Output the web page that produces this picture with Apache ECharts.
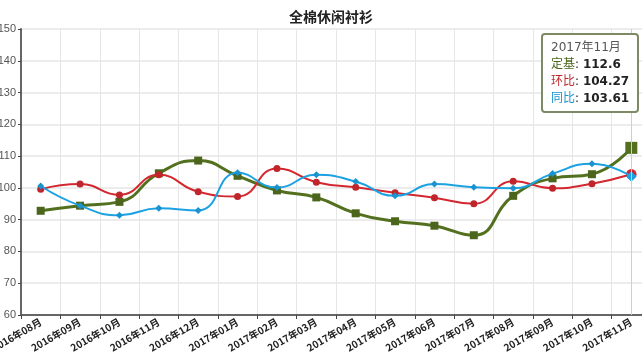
<!DOCTYPE html>
<html><head><meta charset="utf-8">
<script src="https://cdn.jsdelivr.net/npm/echarts@6/dist/echarts.min.js"></script>
<style>html,body{margin:0;padding:0;background:#fff}#c{width:642px;height:353px}</style>
</head><body><div id="c"></div>
<script>
const categories = ['2016年08月','2016年09月','2016年10月','2016年11月','2016年12月','2017年01月','2017年02月','2017年03月','2017年04月','2017年05月','2017年06月','2017年07月','2017年08月','2017年09月','2017年10月','2017年11月'];
const dingji = [92.8,94.4,95.6,104.6,108.6,103.8,99.2,97.0,92.0,89.5,88.1,85.1,97.5,103.0,104.3,112.6];
const huanbi = [99.6,101.2,97.8,104.1,98.8,97.3,106.1,101.8,100.2,98.5,96.9,95.0,102.1,99.9,101.3,104.27];
const tongbi = [100.6,94.4,91.4,93.6,92.9,104.8,100.1,104.1,102.0,97.5,101.2,100.2,99.9,104.5,107.6,103.61];
const yTicks = [60,70,80,90,100,110,120,130,140,150];
const seriesNames = ['定基','环比','同比'];
const colors = ['#4b661c','#c0252b','#1a93cf'];

const chart = echarts.init(document.getElementById('c'));
chart.setOption({
  animation: false,
  title: {text: '全棉休闲衬衫', left: 326, top: 5, textAlign: 'center',
    textStyle: {fontSize: 14, fontWeight: 'bold', color: '#222', fontFamily: 'Noto Sans CJK SC'}},
  grid: {left: 21, right: -9, top: 29, bottom: 38, containLabel: false, outerBoundsMode: 'none'},
  tooltip: {
    trigger: 'axis', renderMode: 'html', alwaysShowContent: true,
    position: [541, 33],
    backgroundColor: '#fff', borderColor: '#7d8a63', borderWidth: 2, borderRadius: 4,
    padding: [4, 8],
    extraCssText: 'box-shadow:none;line-height:17px;',
    textStyle: {fontSize: 12, color: '#222', fontFamily: 'Verdana, DejaVu Sans, Noto Sans CJK SC'},
    axisPointer: {type: 'line', lineStyle: {color: '#cfcfcf', width: 1, type: 'solid'}},
    formatter: function (ps) {
      let s = '<span style="color:#555">' + ps[0].name + '</span>';
      ps.forEach(p => {
        s += '<br/><span style="color:' + colors[p.seriesIndex] + '">' + p.seriesName + '</span>: <b>' + p.value + '</b>';
      });
      return s;
    }
  },
  xAxis: {
    type: 'category', data: categories, boundaryGap: true,
    axisLine: {lineStyle: {color: '#666', width: 2}},
    axisTick: {show: true, length: 4, lineStyle: {color: '#444'}},
    axisLabel: {rotate: 30, fontSize: 10, fontWeight: 'bold', color: '#222', margin: 6, interval: 0,
      fontFamily: 'Noto Sans CJK SC'},
    splitLine: {show: true, lineStyle: {color: '#e6e6e6'}}
  },
  yAxis: {
    type: 'value', min: yTicks[0], max: yTicks[yTicks.length - 1], interval: 10,
    axisLine: {show: true, lineStyle: {color: '#666', width: 2}},
    axisTick: {show: true, length: 3, lineStyle: {color: '#444'}},
    axisLabel: {fontSize: 11, color: '#555', margin: 5, fontFamily: 'Liberation Sans'},
    splitLine: {show: true, lineStyle: {color: '#e6e6e6', width: 1.5}}
  },
  series: [
    {name: seriesNames[0], type: 'line', smooth: true, data: dingji, z: 3,
      symbol: 'rect', symbolSize: 8, color: colors[0], lineStyle: {width: 3, color: colors[0]},
      itemStyle: {color: colors[0]}, emphasis: {scale: 1.5}},
    {name: seriesNames[1], type: 'line', smooth: true, data: huanbi, z: 4,
      symbol: 'circle', symbolSize: 7, color: colors[1], lineStyle: {width: 2, color: colors[1]},
      itemStyle: {color: colors[1]}, emphasis: {scale: 1.5}},
    {name: seriesNames[2], type: 'line', smooth: true, data: tongbi, z: 5,
      symbol: 'diamond', symbolSize: 7, color: colors[2], lineStyle: {width: 2, color: colors[2]},
      itemStyle: {color: colors[2]}, emphasis: {scale: 1.5}}
  ]
});
chart.dispatchAction({type: 'showTip', seriesIndex: 0, dataIndex: 15});
</script></body></html>
